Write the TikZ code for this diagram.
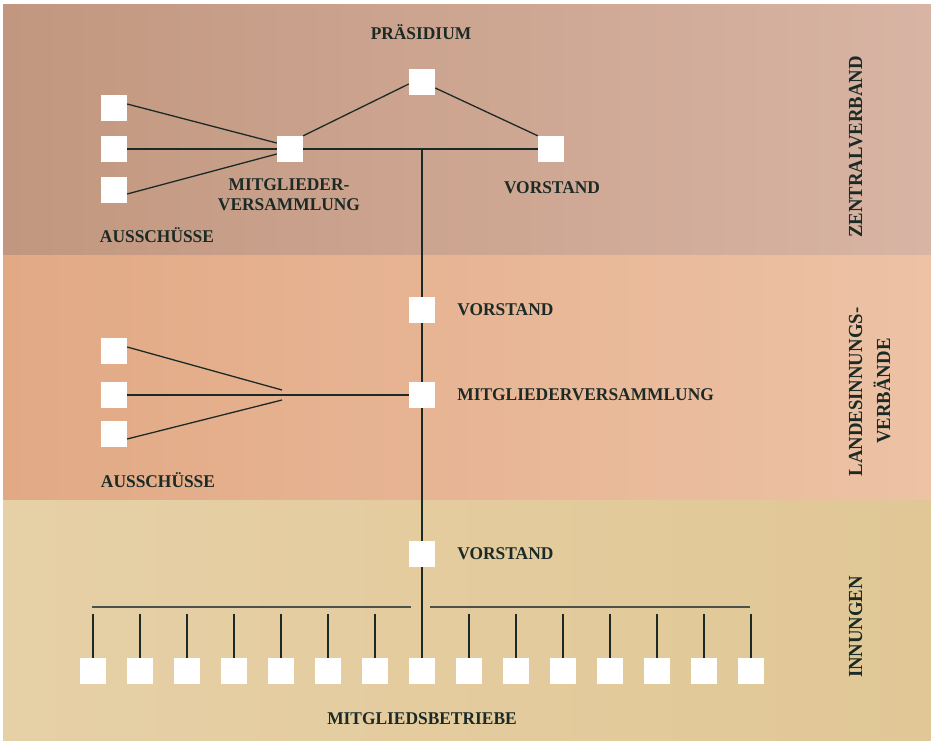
\documentclass[tikz,border=0pt]{standalone}
\usepackage{fontspec}
\setmainfont{Liberation Serif}
\newfontfamily\lblfont{Liberation Serif}[FakeStretch=0.97]
\newfontfamily\sidefont{Liberation Serif}[FakeStretch=0.94]
\usetikzlibrary{positioning,calc}
\definecolor{ink}{HTML}{1C2A26}
\definecolor{rulec}{HTML}{4A524A}
\definecolor{topl}{HTML}{C2977F}
\definecolor{topr}{HTML}{D8B4A4}
\definecolor{midl}{HTML}{E2A985}
\definecolor{midr}{HTML}{EDC2A5}
\definecolor{botl}{HTML}{E6D0A6}
\definecolor{botr}{HTML}{E1C796}

\begin{document}
\begin{tikzpicture}[x=1bp,y=-1bp,
  b/.style={fill=white,minimum size=26bp,inner sep=0pt},
  t/.style={font=\lblfont\bfseries\fontsize{18}{20}\selectfont,text=ink,inner sep=0pt,anchor=base},
  side/.style={font=\sidefont\bfseries\fontsize{20}{22}\selectfont,text=ink,inner sep=0pt,anchor=base,rotate=90},
  ln/.style={draw=ink,line width=1.3bp},
  rule/.style={draw=rulec,line width=2.6bp}]
  \useasboundingbox[fill=white] (0,0) rectangle (931,743);
  % bands
  \fill[left color=topl,right color=topr] (3,5) rectangle (931,255);
  \fill[left color=midl,right color=midr] (3,255) rectangle (931,500);
  \fill[left color=botl,right color=botr] (3,500) rectangle (931,740);

  % Zentralverband
  \node[b](pr) at (422,82){};
  \node[b](zm) at (290,149){};
  \node[b](zv) at (551,149){};
  \node[b](za1) at (114,108){};
  \node[b](za2) at (114,149){};
  \node[b](za3) at (114,190){};
  \coordinate (j) at (422,149);
  \draw[ln](za2)--(zm)--(zv);
  \draw[ln]([yshift=4pt]za1.east)--([yshift=6pt]zm.west);
  \draw[ln]([yshift=-4pt]za3.east)--([yshift=-5pt]zm.west);
  \draw[ln](zm.north east)--([yshift=-2pt]pr.west);
  \draw[ln]([yshift=-6pt]pr.east)--(zv.north west);
  \node[t] at (421,40){PRÄSIDIUM};
  \node[t,align=center] at (289,210){MITGLIEDER-\\VERSAMMLUNG};
  \node[t] at (552,193){VORSTAND};
  \node[t] at (157,242){AUSSCHÜSSE};

  % Landesinnungsverbaende
  \node[b](lv) at (422,310){};
  \node[b](lm) at (422,395){};
  \node[b](la1) at (114,351){};
  \node[b](la2) at (114,395){};
  \node[b](la3) at (114,434){};
  \coordinate (c1) at (282,390);
  \coordinate (c3) at (282,400);
  \draw[ln](la2)--(lm);
  \draw[ln]([yshift=4pt]la1.east)--(c1);
  \draw[ln]([yshift=-5pt]la3.east)--(c3);
  \node[t,right=22bp of lv]{VORSTAND};
  \node[t,right=22bp of lm]{MITGLIEDERVERSAMMLUNG};
  \node[t] at (158,487){AUSSCHÜSSE};

  % Innungen
  \node[b](iv) at (422,554){};
  \node[t,right=22bp of iv]{VORSTAND};
  \foreach \i in {0,...,14}{
    \node[b](m\i) at (93+47*\i,671){};
    \ifnum\i=7\else
      \coordinate (k\i) at (93+47*\i,614);
      \draw[ln](k\i)--(m\i);
    \fi}
  \coordinate (r1) at (92,607);
  \coordinate (r2) at (411,607);
  \coordinate (r3) at (430,607);
  \coordinate (r4) at (750,607);
  \draw[rule](r1)--(r2);
  \draw[rule](r3)--(r4);
  \node[t] at (422,724){MITGLIEDSBETRIEBE};

  % main line
  \draw[ln](j)--(lv)--(lm)--(iv)--(m7);

  % side labels
  \node[side] at (862,147){ZENTRALVERBAND};
  \node[side] at (862,392){LANDESINNUNGS-};
  \node[side] at (890,391){VERBÄNDE};
  \node[side] at (862,627){INNUNGEN};
\end{tikzpicture}
\end{document}
